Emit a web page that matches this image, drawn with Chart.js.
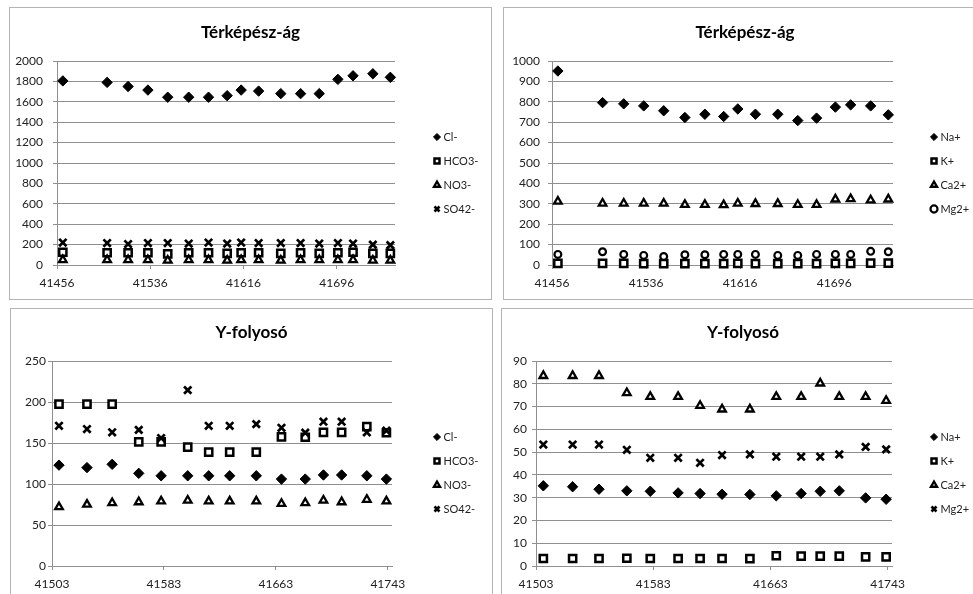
<!DOCTYPE html>
<html><head><meta charset="utf-8">
<script src="https://cdn.jsdelivr.net/npm/chart.js@4.4.1/dist/chart.umd.min.js"></script>
<style>
html,body{margin:0;padding:0;background:#fff;overflow:hidden;width:973px;height:594px}
.panel{position:absolute;border:1px solid #b4b4b4;box-sizing:content-box;background:#fff}
.panel canvas{display:block}
</style></head>
<body>
<div class="panel" style="left:9px;top:7px;width:481px;height:291px"><canvas id="c1" width="481" height="291"></canvas></div>
<div class="panel" style="left:503px;top:7px;width:482px;height:291px"><canvas id="c2" width="482" height="291"></canvas></div>
<div class="panel" style="left:10px;top:308px;width:481px;height:291px"><canvas id="c3" width="481" height="291"></canvas></div>
<div class="panel" style="left:501px;top:308px;width:482px;height:291px"><canvas id="c4" width="482" height="291"></canvas></div>
<script>
// ---------- DATA ----------
const titleTop = 'Térképész-ág';
const titleBottom = 'Y-folyosó';
const anionNames = ['Cl-', 'HCO3-', 'NO3-', 'SO42-'];
const cationNames = ['Na+', 'K+', 'Ca2+', 'Mg2+'];

const topDates = [41461, 41499, 41517, 41534, 41551, 41569, 41586, 41602, 41614, 41629, 41648, 41665, 41681, 41697, 41710, 41727, 41742];
const tkCl   = [1805, 1790, 1750, 1715, 1645, 1645, 1645, 1660, 1715, 1705, 1680, 1680, 1680, 1820, 1855, 1875, 1840];
const tkHCO3 = [125, 120, 120, 120, 110, 120, 120, 115, 120, 120, 115, 120, 115, 120, 125, 115, 115];
const tkNO3  = [50, 50, 50, 50, 45, 50, 50, 45, 50, 50, 45, 50, 50, 50, 50, 45, 45];
const tkSO4  = [220, 215, 205, 215, 215, 210, 220, 210, 220, 215, 215, 215, 210, 215, 210, 200, 195];
const tkNa   = [951, 796, 790, 780, 756, 723, 739, 728, 765, 739, 739, 708, 720, 774, 785, 780, 736];
const tkK    = [8, 8, 8, 7, 7, 7, 7, 7, 8, 7, 7, 7, 7, 8, 8, 9, 9];
const tkCa   = [312, 302, 302, 302, 302, 296, 296, 294, 302, 300, 300, 296, 296, 322, 324, 318, 322];
const tkMg   = [52, 65, 52, 47, 42, 50, 50, 52, 52, 52, 47, 47, 52, 52, 52, 67, 65];

const yfDates = [41508, 41528, 41546, 41565, 41581, 41600, 41615, 41630, 41649, 41667, 41684, 41697, 41710, 41728, 41742];
const yfCl   = [123, 120, 124, 113, 110, 110, 110, 110, 110, 106, 106, 111, 111, 110, 106];
const yfHCO3 = [197.5, 197.5, 197.5, 151.5, 151.5, 145, 139, 139, 139, 157.5, 157, 163, 163, 170, 162.5];
const yfNO3  = [72, 75, 77, 78, 79, 80, 79, 79, 79, 76, 77, 80, 78, 81, 79];
const yfSO4  = [171, 167, 163, 166, 156, 214.5, 171, 171, 173, 168.5, 162.5, 176, 176, 163, 165];
const yfNa   = [35.2, 34.8, 33.7, 33, 32.8, 32.1, 31.8, 31.5, 31.4, 30.8, 31.8, 32.8, 33, 29.9, 29.3];
const yfK    = [3.3, 3.3, 3.3, 3.4, 3.3, 3.3, 3.3, 3.3, 3.2, 4.5, 4.3, 4.3, 4.3, 4.0, 4.0];
const yfCa   = [83.5, 83.5, 83.5, 76, 74.3, 74.3, 70.4, 68.8, 68.8, 74.3, 74.3, 80.2, 74.3, 74.3, 72.6];
const yfMg   = [53.3, 53.3, 53.3, 51, 47.5, 47.5, 45.3, 48.7, 49, 48, 48, 48, 49, 52.3, 51.2];

const xTicksTop = [41456, 41536, 41616, 41696];
const xTicksBottom = [41503, 41583, 41663, 41743];
const xMinTop = 41456, xMinBottom = 41503, xMax = 41746;

// ---------- STYLES ----------
const GRID = '#8f8f8f';
const TEXT = '#222';
Chart.defaults.font.family = 'Lato, "Liberation Sans", sans-serif';
Chart.defaults.color = TEXT;

const M = {
  diamond:  {pointStyle: 'rectRot',  pointRadius: 5.2, pointBackgroundColor: '#000', pointBorderColor: '#000', pointBorderWidth: 1},
  square:   {pointStyle: 'rect',     pointRadius: 5.1, pointBackgroundColor: '#fff', pointBorderColor: '#000', pointBorderWidth: 2.5},
  triangle: {pointStyle: 'triangle', pointRadius: 4.4, pointBackgroundColor: '#fff', pointBorderColor: '#000', pointBorderWidth: 2.3},
  cross:    {pointStyle: 'crossRot', pointRadius: 5.2, pointBackgroundColor: '#000', pointBorderColor: '#000', pointBorderWidth: 2.7},
  circle:   {pointStyle: 'circle',   pointRadius: 3.4, pointBackgroundColor: '#fff', pointBorderColor: '#000', pointBorderWidth: 2.2}
};

const legendPlacer = {
  id: 'legendPlacer',
  beforeLayout(chart, args, o) {
    const lg = chart.legend;
    if (!lg || lg._lpPatched) return;
    const fit = lg.fit;
    lg.fit = function () { fit.call(this); this.width = o.width; };
    lg._lpPatched = true;
  },
  afterLayout(chart, args, o) {
    const lg = chart.legend;
    const h = lg.bottom - lg.top;
    lg.left = o.x; lg.right = o.x + o.width; lg.top = o.y; lg.bottom = o.y + h;
  }
};

function makeChart(id, cfg) {
  const n = cfg.series.length;
  const datasets = cfg.series.map((s, i) => Object.assign({
    label: s.name,
    data: cfg.dates.map((d, j) => ({x: d, y: s.values[j]})),
    showLine: false,
    clip: false,
    order: n - i
  }, M[s.marker]));
  return new Chart(document.getElementById(id), {
    type: 'scatter',
    data: {datasets},
    plugins: [legendPlacer],
    options: {
      responsive: false,
      animation: false,
      layout: {padding: 0},
      plugins: {
        tooltip: {enabled: false},
        title: {display: true, text: cfg.title, color: '#000',
          font: {size: 17, weight: 'bold'},
          padding: {top: cfg.titlePadTop, bottom: cfg.chartTop - cfg.titlePadTop - 20.4}},
        legend: {position: 'right', align: 'start', reverse: true,
          labels: {usePointStyle: true, boxWidth: 2, boxHeight: 5, padding: 13,
            color: TEXT, font: {size: 11}}},
        legendPlacer: {x: cfg.legendX - 14, y: cfg.legendY - 18.5, width: cfg.legendW}
      },
      scales: {
        x: {type: 'linear', min: cfg.xMin, max: xMax,
          afterBuildTicks: s => { s.ticks = cfg.xTicks.map(v => ({value: v})); },
          afterFit: s => { s.height = cfg.xAxisH; },
          grid: {drawOnChartArea: false, drawTicks: true, tickLength: 4, color: GRID},
          border: {color: GRID},
          ticks: {padding: 7, color: TEXT, font: {size: 12}, maxRotation: 0,
            callback: v => String(v)}
        },
        y: {type: 'linear', min: 0, max: cfg.yMax,
          afterFit: s => { s.width = cfg.yAxisW; },
          grid: {color: GRID, tickLength: 4},
          border: {color: GRID},
          ticks: {stepSize: cfg.yStep, padding: cfg.yPad, color: TEXT, font: {size: 12},
            callback: v => String(v)}
        }
      }
    }
  });
}

makeChart('c1', {
  title: titleTop, dates: topDates, xMin: xMinTop, xTicks: xTicksTop,
  yMax: 2000, yStep: 200, yAxisW: 47, xAxisH: 34, yPad: 10,
  chartTop: 53, titlePadTop: 14.8, legendX: 427, legendY: 129, legendW: 96,
  series: [
    {name: anionNames[0], values: tkCl, marker: 'diamond'},
    {name: anionNames[1], values: tkHCO3, marker: 'square'},
    {name: anionNames[2], values: tkNO3, marker: 'triangle'},
    {name: anionNames[3], values: tkSO4, marker: 'cross'}
  ]
});
makeChart('c2', {
  title: titleTop, dates: topDates, xMin: xMinTop, xTicks: xTicksTop,
  yMax: 1000, yStep: 100, yAxisW: 48, xAxisH: 34, yPad: 8,
  chartTop: 53, titlePadTop: 14.8, legendX: 430, legendY: 129, legendW: 93,
  series: [
    {name: cationNames[0], values: tkNa, marker: 'diamond'},
    {name: cationNames[1], values: tkK, marker: 'square'},
    {name: cationNames[2], values: tkCa, marker: 'triangle'},
    {name: cationNames[3], values: tkMg, marker: 'circle'}
  ]
});
makeChart('c3', {
  title: titleBottom, dates: yfDates, xMin: xMinBottom, xTicks: xTicksBottom,
  yMax: 250, yStep: 50, yAxisW: 41, xAxisH: 34, yPad: 2,
  chartTop: 52, titlePadTop: 13.8, legendX: 426, legendY: 128, legendW: 100,
  series: [
    {name: anionNames[0], values: yfCl, marker: 'diamond'},
    {name: anionNames[1], values: yfHCO3, marker: 'square'},
    {name: anionNames[2], values: yfNO3, marker: 'triangle'},
    {name: anionNames[3], values: yfSO4, marker: 'cross'}
  ]
});
makeChart('c4', {
  title: titleBottom, dates: yfDates, xMin: xMinBottom, xTicks: xTicksBottom,
  yMax: 90, yStep: 10, yAxisW: 34, xAxisH: 34, yPad: 5,
  chartTop: 52, titlePadTop: 13.8, legendX: 432, legendY: 128, legendW: 92,
  series: [
    {name: cationNames[0], values: yfNa, marker: 'diamond'},
    {name: cationNames[1], values: yfK, marker: 'square'},
    {name: cationNames[2], values: yfCa, marker: 'triangle'},
    {name: cationNames[3], values: yfMg, marker: 'cross'}
  ]
});
</script>
</body></html>
